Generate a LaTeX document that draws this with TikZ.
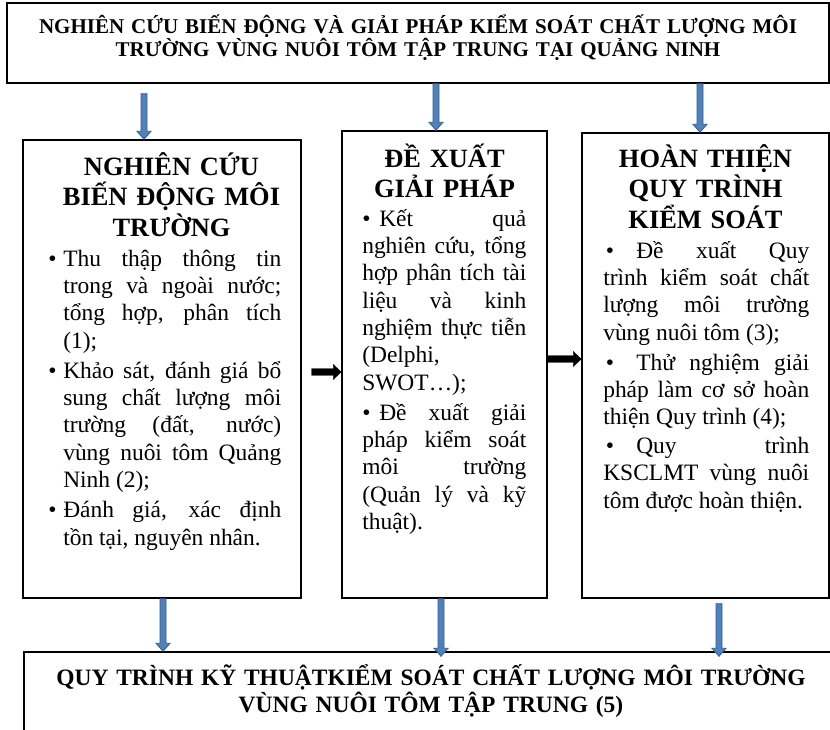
\documentclass[tikz,border=0pt]{standalone}
\usepackage{fontspec}
\setmainfont{Liberation Serif}
\usetikzlibrary{calc,fit}
\definecolor{arrfill}{HTML}{4F81BD}
\definecolor{arrline}{HTML}{385D8A}
\tikzset{
  box/.style={draw=black, line width=1.1pt, inner sep=0pt, fill=white},
  bluedown/.style={fill=arrfill, draw=arrline, line width=0.6pt,
    to path={let \p1=(\tikztostart),\p2=(\tikztotarget) in
      ({\x1-2.25pt},\y1) -- ({\x1-2.25pt},{\y2+6pt}) -- ({\x1-5.25pt},{\y2+6pt}) -- (\x1,\y2)
      -- ({\x1+5.25pt},{\y2+6pt}) -- ({\x1+2.25pt},{\y2+6pt}) -- ({\x1+2.25pt},\y1) -- cycle}},
  blackright/.style={fill=black, draw=black, line width=0.3pt,
    to path={let \p1=(\tikztostart),\p2=(\tikztotarget) in
      (\x1,{\y1+2.6pt}) -- ({\x2-6pt},{\y1+2.6pt}) -- ({\x2-6pt},{\y1+5.6pt}) -- (\x2,\y1)
      -- ({\x2-6pt},{\y1-5.6pt}) -- ({\x2-6pt},{\y1-2.6pt}) -- (\x1,{\y1-2.6pt}) -- cycle}},
  toptext/.style={font=\fontsize{15.75pt}{16.5pt}\selectfont\bfseries, text width=600pt, align=center, inner sep=0pt, anchor=base},
  bottext/.style={font=\fontsize{17.6pt}{20.25pt}\selectfont\bfseries, text width=600pt, align=center, inner sep=0pt, anchor=base},
  coltitle/.style={font=\fontsize{19.8pt}{23pt}\selectfont\bfseries, text width=200pt, align=center, inner sep=0pt, anchor=base},
  body/.style={font=\fontsize{17.6pt}{20.5pt}\selectfont, align=justify, inner sep=0pt, anchor=base west},
}
\newcommand\nohy{\hyphenpenalty=10000 \exhyphenpenalty=10000 \tolerance=10000 \emergencystretch=20pt }
\newcommand\hbul{\leavevmode\llap{\makebox[11.25pt][l]{•}}}
\begin{document}
\begin{tikzpicture}[x=0.75pt,y=-0.75pt]
\useasboundingbox (0,0) rectangle (830,729);
\fill[white] (0,0) rectangle (830,729);
\clip (0,0) rectangle (830,729);

% boxes
\node[box, fit={(7,3)(829,83)}] (top) {};
\node[box, fit={(23,140)(301,598)}] (c1) {};
\node[box, fit={(342,131)(547,598)}] (c2) {};
\node[box, fit={(582,133)(829,598)}] (c3) {};
\node[box, fit={(24,652)(838,780)}] (bot) {};

% texts
\node[toptext] (ttop) at (418,33) {NGHIÊN CỨU BIẾN ĐỘNG VÀ GIẢI PHÁP KIỂM SOÁT CHẤT LƯỢNG MÔI\\TRƯỜNG VÙNG NUÔI TÔM TẬP TRUNG TẠI QUẢNG NINH};

\node[coltitle] (t1) at (171.5,175) {NGHIÊN CỨU\\BIẾN ĐỘNG MÔI\\TRƯỜNG};
\node[coltitle] (t2) at (444.5,167) {ĐỀ XUẤT\\GIẢI PHÁP};
\node[coltitle] (t3) at (705.5,167) {HOÀN THIỆN\\QUY TRÌNH\\KIỂM SOÁT};

\node[body, text width=163.5pt] (b1) at (63,266) {\nohy
\hbul Thu thập thông tin\linebreak trong và ngoài nước;\linebreak tổng hợp, phân tích\linebreak (1);\par\vspace{2.2pt}
\hbul Khảo sát, đánh giá bổ\linebreak sung chất lượng môi\linebreak trường (đất, nước)\linebreak vùng nuôi tôm Quảng\linebreak Ninh (2);\par\vspace{2.2pt}
\hbul Đánh giá, xác định\linebreak tồn tại, nguyên nhân.};

\node[body, text width=123pt] (b2) at (362,226) {\nohy
\makebox[12.75pt][l]{•}Kết quả\linebreak nghiên cứu, tổng\linebreak hợp phân tích tài\linebreak liệu và kinh\linebreak nghiệm thực tiễn\linebreak (Delphi,\newline SWOT…);\par\vspace{2.2pt}
\makebox[12.75pt][l]{•}Đề xuất giải\linebreak pháp kiểm soát\linebreak môi trường\linebreak (Quản lý và kỹ\linebreak thuật).};

\node[body, text width=154.5pt] (b3) at (603,258) {\nohy
\makebox[24.75pt][l]{\hspace{2pt}•}Đề xuất Quy\linebreak trình kiểm soát chất\linebreak lượng môi trường\linebreak vùng nuôi tôm (3);\par\vspace{2.2pt}
\makebox[24.75pt][l]{\hspace{2pt}•}Thử nghiệm giải\linebreak pháp làm cơ sở hoàn\linebreak thiện Quy trình (4);\par\vspace{1pt}
\makebox[24.75pt][l]{\hspace{2pt}•}Quy trình\linebreak KSCLMT vùng nuôi\linebreak tôm được hoàn thiện.};

\node[bottext] (tbot) at (431,685) {QUY TRÌNH KỸ THUẬTKIỂM SOÁT CHẤT LƯỢNG MÔI TRƯỜNG\\VÙNG NUÔI TÔM TẬP TRUNG (5)};

% arrows
\draw[bluedown] ($(top.south -| 144,0)+(0,10)$) to (c1.north -| 144,0);
\draw[bluedown] (top.south -| 436,0) to (c2.north -| 436,0);
\draw[bluedown] (top.south -| 700,0) to (c3.north -| 700,0);
\draw[bluedown] (c1.south -| 163,0) to (bot.north -| 163,0);
\draw[bluedown] (c2.south -| 441,0) to ($(bot.north -| 441,0)+(0,5)$);
\draw[bluedown] ($(c3.south -| 719,0)+(0,5)$) to ($(bot.north -| 719,0)+(0,5)$);
\draw[blackright] ($(c1.east |- 0,372)+(10,0)$) to (c2.west |- 0,372);
\draw[blackright] (c2.east |- 0,359) to (c3.west |- 0,359);
\end{tikzpicture}
\end{document}
